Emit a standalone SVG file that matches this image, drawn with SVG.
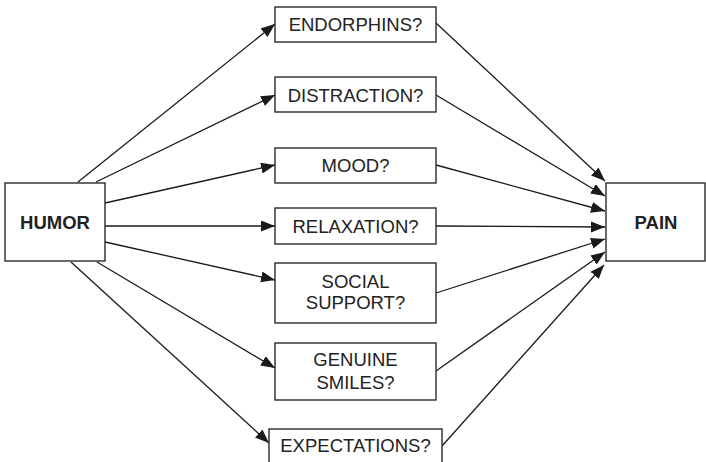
<svg xmlns="http://www.w3.org/2000/svg" width="706" height="462" viewBox="0 0 706 462">
<style>
.box{fill:#fff;stroke:#2a2a2a;stroke-width:1.4}
.t{font-family:"Liberation Sans",Arial,sans-serif;font-size:18.5px;fill:#222;text-anchor:middle}
.b{font-weight:bold}
.c{stroke:#1a1a1a;stroke-width:1.3;fill:none;marker-end:url(#ah)}
</style>
<defs>
<marker id="ah" markerUnits="userSpaceOnUse" markerWidth="15" markerHeight="12" refX="14" refY="5.5" orient="auto">
<path d="M0,0 L14,5.5 L0,11 z" fill="#1a1a1a"/>
</marker>
</defs>
<g id="connectors">
<line class="c" x1="78" y1="182" x2="275" y2="24"/>
<line class="c" x1="96" y1="182" x2="275" y2="95"/>
<line class="c" x1="105" y1="203" x2="275" y2="165"/>
<line class="c" x1="105" y1="226" x2="275" y2="226"/>
<line class="c" x1="105" y1="242" x2="275" y2="280"/>
<line class="c" x1="97" y1="262" x2="275" y2="368"/>
<line class="c" x1="71" y1="262" x2="269" y2="443"/>
<line class="c" x1="436" y1="23" x2="605" y2="181"/>
<line class="c" x1="436" y1="95" x2="605" y2="196"/>
<line class="c" x1="436" y1="165" x2="605" y2="211"/>
<line class="c" x1="436" y1="226" x2="605" y2="227"/>
<line class="c" x1="436" y1="293" x2="605" y2="239"/>
<line class="c" x1="436" y1="371" x2="605" y2="252"/>
<line class="c" x1="442" y1="446" x2="604" y2="265"/>
</g>
<g id="humor">
<rect class="box" x="5" y="183" width="100" height="78"/>
<text class="t b" x="55" y="228.5">HUMOR</text>
</g>
<g id="pain">
<rect class="box" x="606" y="183" width="99" height="78"/>
<text class="t b" x="656" y="228.5">PAIN</text>
</g>
<g id="endorphins">
<rect class="box" x="275" y="7" width="161" height="35"/>
<text class="t" x="355.5" y="31">ENDORPHINS?</text>
</g>
<g id="distraction">
<rect class="box" x="275" y="77" width="161" height="35"/>
<text class="t" x="355.5" y="101.5">DISTRACTION?</text>
</g>
<g id="mood">
<rect class="box" x="275" y="148" width="161" height="35"/>
<text class="t" x="355.5" y="171.5">MOOD?</text>
</g>
<g id="relaxation">
<rect class="box" x="275" y="208" width="161" height="36"/>
<text class="t" x="355.5" y="232.7">RELAXATION?</text>
</g>
<g id="social-support">
<rect class="box" x="275" y="263" width="161" height="60"/>
<text class="t" x="355.5" y="287.5">SOCIAL</text>
<text class="t" x="355.5" y="309">SUPPORT?</text>
</g>
<g id="genuine-smiles">
<rect class="box" x="275" y="343" width="161" height="57"/>
<text class="t" x="355.5" y="366">GENUINE</text>
<text class="t" x="355.5" y="388.5">SMILES?</text>
</g>
<g id="expectations">
<rect class="box" x="269" y="429" width="173" height="40"/>
<text class="t" x="355.5" y="452">EXPECTATIONS?</text>
</g>
</svg>
